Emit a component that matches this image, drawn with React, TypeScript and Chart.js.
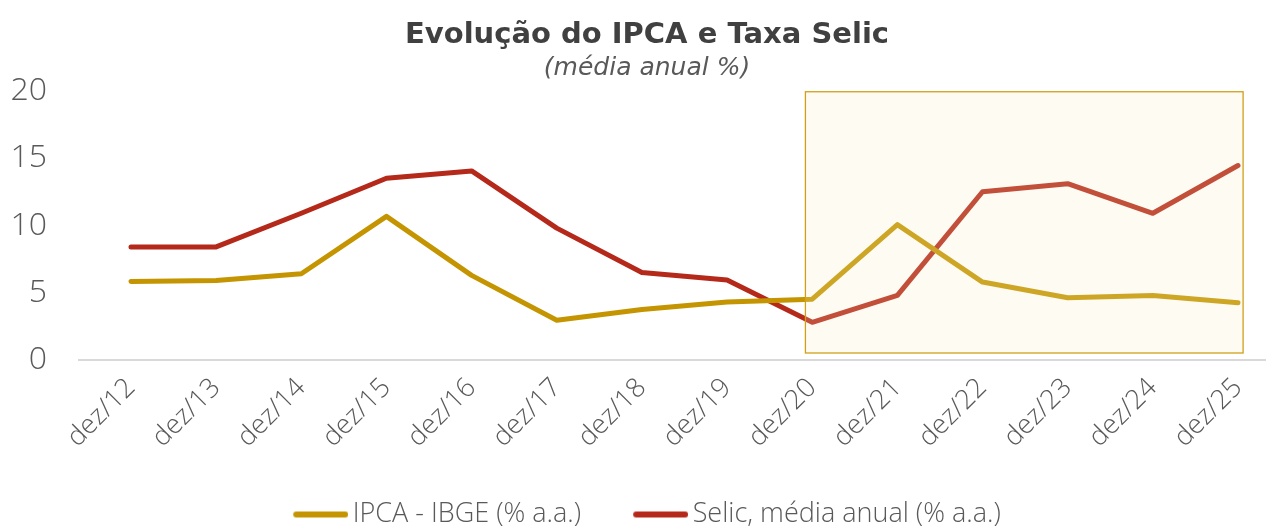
import React, { useEffect, useRef } from "react";
import { Chart, registerables } from "chart.js";

Chart.register(...registerables);

const categories = ["dez/12", "dez/13", "dez/14", "dez/15", "dez/16", "dez/17", "dez/18", "dez/19", "dez/20", "dez/21", "dez/22", "dez/23", "dez/24", "dez/25"];
const ipca = [5.84, 5.91, 6.41, 10.67, 6.29, 2.95, 3.75, 4.31, 4.52, 10.06, 5.79, 4.62, 4.8, 4.25];
const selic = [8.4, 8.4, 10.9, 13.5, 14.05, 9.8, 6.5, 5.95, 2.8, 4.8, 12.5, 13.1, 10.9, 14.45];
const yTicks = [0, 5, 10, 15, 20];
const highlightStart = 7.92;
const highlightEnd = 13.06;
const highlightTop = 19.93;
const highlightBottom = 0.52;

const FONT = "'Open Sans', 'DejaVu Sans', sans-serif";
const TITLE_FONT = "'DejaVu Sans', 'Open Sans', sans-serif";

function legendLine(color: string): HTMLCanvasElement {
  const c = document.createElement("canvas");
  c.width = 64;
  c.height = 8;
  const g = c.getContext("2d");
  if (g) {
    g.strokeStyle = color;
    g.lineWidth = 6;
    g.lineCap = "round";
    g.beginPath();
    g.moveTo(12, 4);
    g.lineTo(61, 4);
    g.stroke();
  }
  return c;
}

const highlightPlugin = {
  id: "highlightBox",
  afterDatasetsDraw(chart: any) {
    const { ctx, scales } = chart;
    const x = scales.x, y = scales.y;
    const x0 = x.getPixelForValue(highlightStart);
    const x1 = x.getPixelForValue(highlightEnd);
    const y0 = y.getPixelForValue(highlightTop);
    const y1 = y.getPixelForValue(highlightBottom);
    ctx.save();
    ctx.fillStyle = "rgba(250,236,190,0.2)";
    ctx.fillRect(x0, y0, x1 - x0, y1 - y0);
    ctx.strokeStyle = "#D0A01A";
    ctx.lineWidth = 1.3;
    ctx.strokeRect(x0, y0, x1 - x0, y1 - y0);
    ctx.restore();
  },
};

export default function App() {
  const ref = useRef<HTMLCanvasElement | null>(null);
  useEffect(() => {
    if (!ref.current) return;
    const chart = new Chart(ref.current, {
      type: "line",
      data: {
        datasets: [
          {
            label: "IPCA - IBGE (% a.a.)",
            data: ipca.map((v, i) => ({ x: i, y: v })),
            borderColor: "#C49500",
            backgroundColor: "#C49500",
            borderWidth: 5,
            borderCapStyle: "round",
            borderJoinStyle: "round",
            pointRadius: 0,
            pointStyle: legendLine("#C49500") as any,
            tension: 0,
          },
          {
            label: "Selic, média anual (% a.a.)",
            data: selic.map((v, i) => ({ x: i, y: v })),
            borderColor: "#B5291A",
            backgroundColor: "#B5291A",
            borderWidth: 5,
            borderCapStyle: "round",
            borderJoinStyle: "round",
            pointRadius: 0,
            pointStyle: legendLine("#B5291A") as any,
            tension: 0,
          },
        ],
      },
      options: {
        animation: false,
        responsive: false,
        maintainAspectRatio: false,
        layout: { padding: { top: 0, left: 0, right: -28, bottom: -11 } },
        plugins: {
          title: {
            display: true,
            text: "Evolução do IPCA e Taxa Selic",
            color: "#404040",
            font: { family: TITLE_FONT, size: 29, weight: "bold" },
            padding: { top: 18, bottom: 0 },
          },
          subtitle: {
            display: true,
            text: "(média anual %)",
            color: "#595959",
            font: { family: TITLE_FONT, size: 25, style: "italic", weight: "200" },
            padding: { top: 1, bottom: 7 },
          },
          legend: {
            position: "bottom",
            labels: {
              usePointStyle: true,
              pointStyleWidth: 46,
              boxHeight: 27,
              padding: 52,
              color: "#595959",
              font: { family: FONT, size: 27, weight: "300" },
            },
          },
          tooltip: { enabled: false },
        },
        scales: {
          x: {
            type: "linear",
            min: -0.6224,
            max: 13.329,
            afterBuildTicks(scale: any) {
              scale.ticks = categories.map((_, i) => ({ value: i }));
            },
            afterFit(scale: any) {
              scale.height = 89;
            },
            ticks: {
              autoSkip: false,
              minRotation: 45,
              maxRotation: 45,
              padding: 4,
              color: "#595959",
              font: { family: FONT, size: 27, weight: "300" },
              callback: (v: any) => categories[v] ?? "",
            },
            grid: { display: false },
            border: { display: false },
          },
          y: {
            min: 0,
            max: 20,
            afterBuildTicks(scale: any) {
              scale.ticks = yTicks.map((v) => ({ value: v }));
            },
            afterFit(scale: any) {
              scale.width = 78;
            },
            ticks: {
              padding: 31,
              color: "#595959",
              font: { family: FONT, size: 32, weight: "300" },
            },
            grid: {
              drawTicks: false,
              color: (c: any) => (c.tick && c.tick.value === 0 ? "#D9D9D9" : "rgba(0,0,0,0)"),
              lineWidth: 2,
            },
            border: { display: false },
          },
        },
      },
      plugins: [highlightPlugin],
    });
    return () => chart.destroy();
  }, []);
  return (
    <div style={{ position: "fixed", left: 0, top: 0, width: 1266, height: 527, background: "#fff" }}>
      <canvas ref={ref} width={1266} height={527} style={{ width: 1266, height: 527 }} />
    </div>
  );
}
